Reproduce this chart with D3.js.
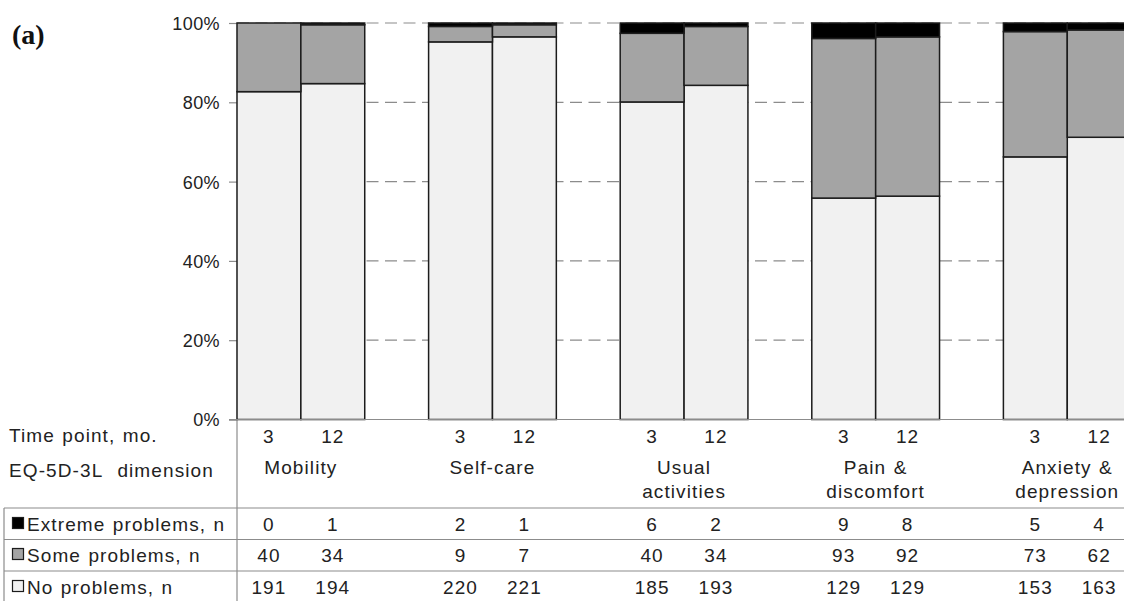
<!DOCTYPE html>
<html>
<head>
<meta charset="utf-8">
<script src="https://cdn.jsdelivr.net/npm/d3@7"></script>
<style>
  html, body { margin: 0; padding: 0; background: #fff; }
  svg { display: block; }
  .lbl { font-family: "Liberation Sans", Arial, sans-serif; font-size: 19px; fill: #222; letter-spacing: 1.1px; word-spacing: 1px; white-space: pre; }
  .tick-lbl { font-family: "Liberation Sans", Arial, sans-serif; font-size: 18px; fill: #222; letter-spacing: 0.4px; }
</style>
</head>
<body>
<svg id="chart" width="1124" height="601"></svg>
<script>
// ── Data: EQ-5D-3L responses at 3 and 12 months ─────────────────────────────
const dimensions = ["Mobility", "Self-care", "Usual activities", "Pain & discomfort", "Anxiety & depression"];
const dimensionLines = [["Mobility"], ["Self-care"], ["Usual", "activities"], ["Pain &", "discomfort"], ["Anxiety &", "depression"]];
const timePoints = ["3", "12"];
const extremeN = [[0, 1], [2, 1], [6, 2], [9, 8], [5, 4]];
const someN    = [[40, 34], [9, 7], [40, 34], [93, 92], [73, 62]];
const noneN    = [[191, 194], [220, 221], [185, 193], [129, 129], [153, 163]];
const yTicks   = [0, 0.2, 0.4, 0.6, 0.8, 1];

const W = 1124, H = 601;
const svg = d3.select("#chart");

const COLORS = { none: "#f1f1f1", some: "#a4a4a4", extreme: "#000000" };
const keys = ["none", "some", "extreme"];
const rowLabels = { extreme: "Extreme problems, n", some: "Some problems, n", none: "No problems, n" };

// flat rows, one per bar
const rows = [];
dimensions.forEach((dim, i) => {
  timePoints.forEach((t, j) => {
    rows.push({ dim, t, none: noneN[i][j], some: someN[i][j], extreme: extremeN[i][j] });
  });
});

// ── Scales ──────────────────────────────────────────────────────────────────
const x0 = 237, groupW = 191.6;
const xOuter = d3.scaleBand().domain(dimensions).range([x0, x0 + groupW * dimensions.length]);
const xInner = d3.scaleBand().domain(timePoints).range([0, xOuter.bandwidth() * 2 / 3]);
const y = d3.scaleLinear().domain([0, 1]).range([419.5, 23]);

const barX = d => xOuter(d.dim) + xInner(d.t);
const groupMid = dim => xOuter(dim) + xInner.range()[1] / 2;

// ── Gridlines (dashed) ──────────────────────────────────────────────────────
svg.append("g").selectAll("line").data(yTicks.filter(v => v > 0)).join("line")
  .attr("x1", x0).attr("x2", W)
  .attr("y1", d => y(d)).attr("y2", d => y(d))
  .attr("stroke", "#8c8c8c").attr("stroke-width", 1.2)
  .attr("stroke-dasharray", "12,6.5");

// ── Y axis ──────────────────────────────────────────────────────────────────
const yAxis = svg.append("g").attr("transform", `translate(${x0},0)`)
  .call(d3.axisLeft(y).tickValues(yTicks).tickFormat(d3.format(".0%")).tickSize(8).tickPadding(9));
yAxis.select(".domain").attr("stroke", "#8c8c8c").attr("stroke-width", 1.2);
yAxis.selectAll(".tick line").attr("stroke", "#8c8c8c").attr("stroke-width", 1.2);
yAxis.selectAll(".tick text").attr("class", "tick-lbl").attr("dy", "0.36em");

// ── Stacked bars ────────────────────────────────────────────────────────────
const stack = d3.stack().keys(keys).offset(d3.stackOffsetExpand);
const series = stack(rows);

svg.append("g").selectAll("g").data(series).join("g")
  .attr("fill", s => COLORS[s.key])
  .selectAll("rect").data(s => s).join("rect")
  .attr("x", d => barX(d.data))
  .attr("width", xInner.bandwidth())
  .attr("y", d => y(d[1]))
  .attr("height", d => y(d[0]) - y(d[1]))
  .attr("stroke", "#1c1c1c").attr("stroke-width", 1.5);

// ── Baseline + table grid ───────────────────────────────────────────────────
const grid = svg.append("g").attr("stroke", "#8c8c8c").attr("stroke-width", 1.2);
grid.append("line").attr("x1", 229).attr("x2", W).attr("y1", y(0)).attr("y2", y(0));
grid.append("line").attr("x1", x0).attr("x2", x0).attr("y1", y(0)).attr("y2", H);
const rowY = { extreme: 531, some: 562, none: 594 };
const tableLines = [508, 539.5, 571];
tableLines.forEach(ly => grid.append("line").attr("x1", 4).attr("x2", W).attr("y1", ly).attr("y2", ly));
grid.append("line").attr("x1", 4).attr("x2", 4).attr("y1", tableLines[0]).attr("y2", H);

// ── Table text ──────────────────────────────────────────────────────────────
const tg = svg.append("g");
tg.append("text").attr("class", "lbl").attr("x", 9).attr("y", 442).text("Time point, mo.");
tg.append("text").attr("class", "lbl").attr("x", 9).attr("y", 477).text("EQ-5D-3L  dimension");

// time point labels
tg.selectAll("text.tp").data(rows).join("text").attr("class", "lbl tp")
  .attr("text-anchor", "middle")
  .attr("x", d => barX(d) + xInner.bandwidth() / 2).attr("y", 443)
  .text(d => d.t);

// dimension names (1 or 2 lines)
dimensions.forEach((dim, i) => {
  dimensionLines[i].forEach((line, k) => {
    tg.append("text").attr("class", "lbl").attr("text-anchor", "middle")
      .attr("x", groupMid(dim)).attr("y", 474 + k * 24).text(line);
  });
});

// legend rows with counts
["extreme", "some", "none"].forEach(k => {
  const ry = rowY[k];
  tg.append("rect").attr("x", 12.5).attr("y", ry - 13.5).attr("width", 11).attr("height", 11)
    .attr("fill", COLORS[k]).attr("stroke", "#1c1c1c").attr("stroke-width", 1.2);
  tg.append("text").attr("class", "lbl").attr("x", 27).attr("y", ry).text(rowLabels[k]);
  tg.selectAll(null).data(rows).join("text").attr("class", "lbl")
    .attr("text-anchor", "middle")
    .attr("x", d => barX(d) + xInner.bandwidth() / 2).attr("y", ry)
    .text(d => d[k]);
});

// panel tag
svg.append("text").attr("x", 12).attr("y", 44)
  .attr("font-family", "'Liberation Serif', 'Times New Roman', serif")
  .attr("font-weight", "bold").attr("font-size", "28px").attr("fill", "#111")
  .text("(a)");
</script>
</body>
</html>
